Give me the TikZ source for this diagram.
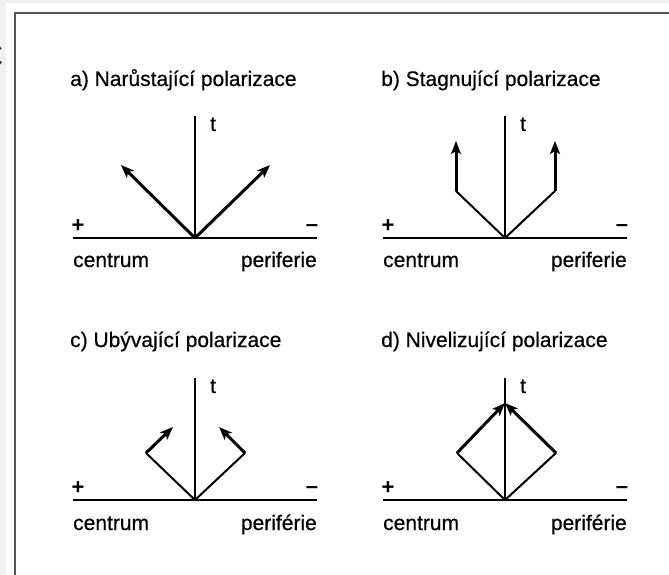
\documentclass[tikz,border=0pt]{standalone}
\usepackage{fontspec}
\setmainfont{Liberation Sans}
\newfontfamily\heavysans[FakeBold=0.5]{Liberation Sans}
\usetikzlibrary{arrows.meta}
\definecolor{outergray}{HTML}{F0F0F0}
\definecolor{framegray}{HTML}{555555}
\begin{document}
\begin{tikzpicture}[x=1pt,y=-1pt,
  axis/.style={line width=2pt,line cap=butt},
  thickarrow/.style={line width=3pt,-{Stealth[length=13pt,width=10pt,inset=3pt]}},
  thinline/.style={line width=2pt,line cap=round},
  lbl/.style={inner sep=0pt,font=\heavysans\fontsize{21}{25}\selectfont},
  sign/.style={inner sep=0pt,font=\bfseries\fontsize{22}{25}\selectfont},
]
\useasboundingbox (0,0) rectangle (669,575);
\clip (0,0) rectangle (669,575);
\fill[outergray] (0,0) rectangle (669,575);
\fill[white] (6,3) rectangle (669,575);
\draw[framegray, line width=2pt] (15,576) -- (15,13) -- (670,13);
\node[inner sep=0pt, anchor=east, font=\fontsize{36}{36}\selectfont, text=black!85] (cut) at (3.5,56) {C};

% ---------- a ----------
\begin{scope}[shift={(195,238)}]
\coordinate (aO) at (0,0);
\coordinate (aT) at (0,-122);
\coordinate (aL) at (-122,0);
\coordinate (aR) at (122,0);
\coordinate (aA1) at (-74,-73);
\coordinate (aA2) at (75,-73);
\node[lbl,anchor=base west] (atitle) at (-125,-152) {a) Narůstající polarizace};
\node[lbl,anchor=base west] (at) at (15,-107) {t};
\node[sign] (aplus) at (-117,-12) {+};
\node[sign] (aminus) at (117,-10) {–};
\node[lbl,anchor=base west] (acentrum) at (-122,29) {centrum};
\node[lbl,anchor=base east] (aperif) at (122,29) {periferie};
\draw[axis] (aL) -- (aR);
\draw[axis] (aO) -- (aT);
\draw[thickarrow] (aO) -- (aA1);
\draw[thickarrow] (aO) -- (aA2);
\end{scope}

% ---------- b ----------
\begin{scope}[shift={(505,238)}]
\coordinate (bO) at (0,0);
\coordinate (bT) at (0,-122);
\coordinate (bL) at (-122,0);
\coordinate (bR) at (122,0);
\coordinate (bC1) at (-49,-47);
\coordinate (bC2) at (50,-47);
\coordinate (bA1) at (-49,-97);
\coordinate (bA2) at (50,-97);
\node[lbl,anchor=base west] (btitle) at (-124,-152) {b) Stagnující polarizace};
\node[lbl,anchor=base west] (bt) at (15,-107) {t};
\node[sign] (bplus) at (-117,-12) {+};
\node[sign] (bminus) at (117,-10) {–};
\node[lbl,anchor=base west] (bcentrum) at (-122,29) {centrum};
\node[lbl,anchor=base east] (bperif) at (122,29) {periferie};
\draw[axis] (bL) -- (bR);
\draw[axis] (bO) -- (bT);
\draw[thinline] (bO) -- (bC1);
\draw[thinline] (bO) -- (bC2);
\draw[thickarrow] (bC1) -- (bA1);
\draw[thickarrow] (bC2) -- (bA2);
\end{scope}

% ---------- c ----------
\begin{scope}[shift={(195,500)}]
\coordinate (cO) at (0,0);
\coordinate (cT) at (0,-122);
\coordinate (cL) at (-122,0);
\coordinate (cR) at (122,0);
\coordinate (cC1) at (-49,-47);
\coordinate (cC2) at (50,-47);
\coordinate (cA1) at (-22,-73);
\coordinate (cA2) at (24,-73);
\node[lbl,anchor=base west] (ctitle) at (-125,-153) {c) Ubývající polarizace};
\node[lbl,anchor=base west] (ct) at (15,-107) {t};
\node[sign] (cplus) at (-117,-12) {+};
\node[sign] (cminus) at (117,-10) {–};
\node[lbl,anchor=base west] (ccentrum) at (-122,30) {centrum};
\node[lbl,anchor=base east] (cperif) at (122,30) {periférie};
\draw[axis] (cL) -- (cR);
\draw[axis] (cO) -- (cT);
\draw[thinline] (cO) -- (cC1);
\draw[thinline] (cO) -- (cC2);
\draw[thickarrow] (cC1) -- (cA1);
\draw[thickarrow] (cC2) -- (cA2);
\end{scope}

% ---------- d ----------
\begin{scope}[shift={(505,500)}]
\coordinate (dO) at (0,0);
\coordinate (dT) at (0,-122);
\coordinate (dL) at (-122,0);
\coordinate (dR) at (122,0);
\coordinate (dC1) at (-48,-47);
\coordinate (dC2) at (51,-47);
\coordinate (dA) at (0,-97);
\node[lbl,anchor=base west] (dtitle) at (-124,-153) {d) Nivelizující polarizace};
\node[lbl,anchor=base west] (dt) at (15,-107) {t};
\node[sign] (dplus) at (-117,-12) {+};
\node[sign] (dminus) at (117,-10) {–};
\node[lbl,anchor=base west] (dcentrum) at (-122,30) {centrum};
\node[lbl,anchor=base east] (dperif) at (122,30) {periférie};
\draw[axis] (dL) -- (dR);
\draw[axis] (dO) -- (dT);
\draw[thinline] (dO) -- (dC1);
\draw[thinline] (dO) -- (dC2);
\draw[thickarrow] (dC1) -- (dA);
\draw[thickarrow] (dC2) -- (dA);
\end{scope}
\end{tikzpicture}
\end{document}
